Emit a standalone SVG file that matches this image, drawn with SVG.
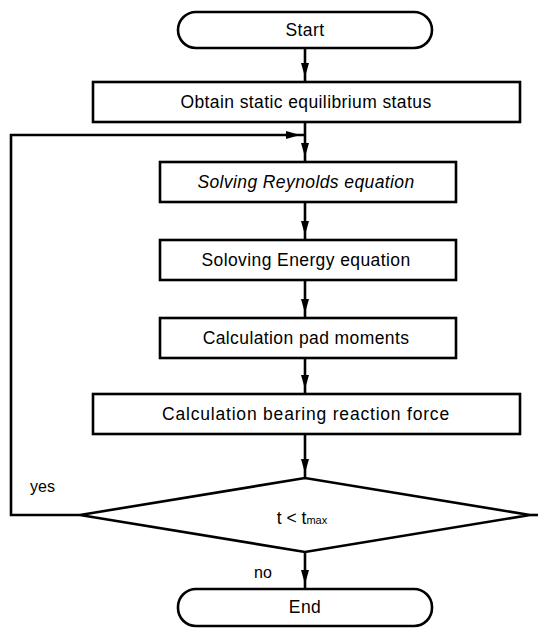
<svg xmlns="http://www.w3.org/2000/svg" width="538" height="629" viewBox="0 0 538 629">
<defs>
<style>
.shape{fill:#fff;stroke:#000;stroke-width:2.6}
.conn{fill:none;stroke:#000;stroke-width:2.6}
.lbl{font-family:"Liberation Sans",Arial,sans-serif;font-size:17.5px;fill:#000;text-anchor:middle;letter-spacing:0.4px}
.it{font-style:italic}
.side{font-family:"Liberation Sans",Arial,sans-serif;font-size:16px;fill:#000}
</style>
<marker id="ah" markerUnits="userSpaceOnUse" markerWidth="22" markerHeight="10" refX="19" refY="4.5" orient="auto">
<path d="M0,0.5 L14,4.5 L0,8.5 z" fill="#000"/>
</marker>
</defs>
<rect width="538" height="629" fill="#fff"/>
<g id="connectors">
<line class="conn" x1="305" y1="48" x2="305" y2="82" marker-end="url(#ah)"/>
<line class="conn" x1="305" y1="122" x2="305" y2="162" marker-end="url(#ah)"/>
<polyline class="conn" points="80,515 11,515 11,135 305,135" marker-end="url(#ah)"/>
<line class="conn" x1="305" y1="202" x2="305" y2="240" marker-end="url(#ah)"/>
<line class="conn" x1="305" y1="280" x2="305" y2="318" marker-end="url(#ah)"/>
<line class="conn" x1="305" y1="358" x2="305" y2="394" marker-end="url(#ah)"/>
<line class="conn" x1="305" y1="434" x2="305" y2="478" marker-end="url(#ah)"/>
<line class="conn" x1="305" y1="552" x2="305" y2="589" marker-end="url(#ah)"/>
<text class="side" x="30" y="492">yes</text>
<text class="side" x="254" y="578">no</text>
</g>
<g id="start">
<rect class="shape" x="178" y="12" width="254" height="36" rx="18" ry="18"/>
<text class="lbl" x="305" y="36">Start</text>
</g>
<g id="obtain">
<rect class="shape" x="93" y="82" width="427" height="40"/>
<text class="lbl" x="306" y="108">Obtain static equilibrium status</text>
</g>
<g id="reynolds">
<rect class="shape" x="160" y="162" width="296" height="40"/>
<text class="lbl it" x="306" y="188">Solving Reynolds equation</text>
</g>
<g id="energy">
<rect class="shape" x="160" y="240" width="296" height="40"/>
<text class="lbl" x="306" y="266">Soloving Energy equation</text>
</g>
<g id="pad">
<rect class="shape" x="160" y="318" width="296" height="40"/>
<text class="lbl" x="306" y="344">Calculation pad moments</text>
</g>
<g id="bearing">
<rect class="shape" x="93" y="394" width="427" height="40"/>
<text class="lbl" x="306" y="420" style="letter-spacing:0.8px">Calculation bearing reaction force</text>
</g>
<g id="decision">
<polygon class="shape" points="80,515 305,478 530,515 305,552"/>
<line class="conn" x1="530" y1="515" x2="538" y2="515"/>
<text class="lbl" x="302" y="524" style="letter-spacing:0">t &lt; t<tspan font-size="11">max</tspan></text>
</g>
<g id="end">
<rect class="shape" x="178" y="589" width="254" height="37" rx="18" ry="18"/>
<text class="lbl" x="305" y="613">End</text>
</g>
</svg>
